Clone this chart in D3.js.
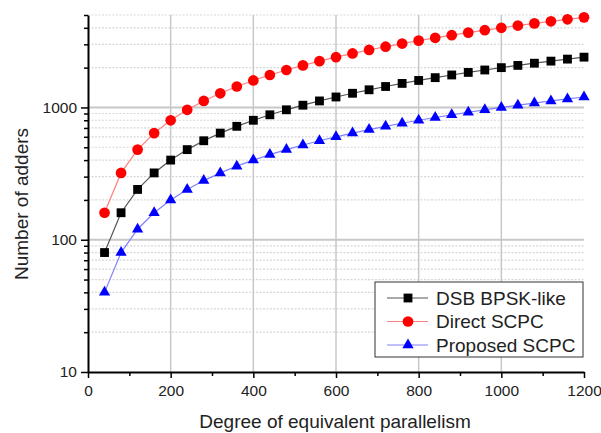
<!DOCTYPE html>
<html>
<head>
<meta charset="utf-8">
<script src="https://cdn.jsdelivr.net/npm/d3@7/dist/d3.min.js"></script>
<style>
  body { margin: 0; background: #fff; }
  svg { font-family: "Liberation Sans", Arial, sans-serif; }
</style>
</head>
<body>
<div id="chart"></div>
<script>
const w = 601;
const h = 433;

// degree of equivalent parallelism
const parallelism = [40, 80, 120, 160, 200, 240, 280, 320, 360, 400, 440, 480, 520, 560, 600,
  640, 680, 720, 760, 800, 840, 880, 920, 960, 1000, 1040, 1080, 1120, 1160, 1200];
const dsb = [80, 160, 240, 320, 400, 480, 560, 640, 720, 800, 880, 960, 1040, 1120, 1200,
  1280, 1360, 1440, 1520, 1600, 1680, 1760, 1840, 1920, 2000, 2080, 2160, 2240, 2320, 2400];
const direct = [160, 320, 480, 640, 800, 960, 1120, 1280, 1440, 1600, 1760, 1920, 2080, 2240, 2400,
  2560, 2720, 2880, 3040, 3200, 3360, 3520, 3680, 3840, 4000, 4160, 4320, 4480, 4640, 4800];
const proposed = [40, 80, 120, 160, 200, 240, 280, 320, 360, 400, 440, 480, 520, 560, 600,
  640, 680, 720, 760, 800, 840, 880, 920, 960, 1000, 1040, 1080, 1120, 1160, 1200];

const seriesNames = ["DSB BPSK-like", "Direct SCPC", "Proposed SCPC"];
const xTicks = [0, 200, 400, 600, 800, 1000, 1200];
const xMinor = [100, 300, 500, 700, 900, 1100];
const yTicks = [10, 100, 1000];

const series = [
  { name: seriesNames[0], values: dsb, line: "#555", fill: "#000", shape: d3.symbolSquare, size: 78 },
  { name: seriesNames[1], values: direct, line: "#ff8080", fill: "#ff0000", shape: d3.symbolCircle, size: 90 },
  { name: seriesNames[2], values: proposed, line: "#8080ff", fill: "#0000ff", shape: d3.symbolTriangle, size: 55 }
];

const m = { left: 88, right: 584, top: 15, bottom: 372 };

const x = d3.scaleLinear().domain([0, 1200]).range([m.left, m.right]);
const y = d3.scaleLog().domain([10, 5000]).range([m.bottom, m.top]);

const svg = d3.select("#chart").append("svg")
  .attr("width", w).attr("height", h);

// minor log values
const yMinor = [];
[10, 100, 1000].forEach((dec) => {
  for (let k = 2; k <= 9; k += 1) {
    if (dec * k <= 5000) yMinor.push(dec * k);
  }
});

// grid
const grid = svg.append("g");
grid.selectAll("line.minor").data(yMinor).enter().append("line")
  .attr("x1", m.left).attr("x2", m.right)
  .attr("y1", (d) => y(d)).attr("y2", (d) => y(d))
  .attr("stroke", "#d8d8d8").attr("stroke-width", 1.2)
  .attr("stroke-dasharray", "2,1.5");
grid.selectAll("line.majy").data([100, 1000]).enter().append("line")
  .attr("x1", m.left).attr("x2", m.right)
  .attr("y1", (d) => y(d)).attr("y2", (d) => y(d))
  .attr("stroke", "#c8c8c8").attr("stroke-width", 2);
grid.selectAll("line.majx").data(xTicks.slice(1, -1)).enter().append("line")
  .attr("x1", (d) => x(d)).attr("x2", (d) => x(d))
  .attr("y1", m.top).attr("y2", m.bottom)
  .attr("stroke", "#c8c8c8").attr("stroke-width", 1.5);

// series
series.forEach((s) => {
  const line = d3.line().x((d, i) => x(parallelism[i])).y((d) => y(d));
  svg.append("path").datum(s.values)
    .attr("d", line)
    .attr("fill", "none")
    .attr("stroke", s.line)
    .attr("stroke-width", 1.2);
  svg.append("g").selectAll("path").data(s.values).enter().append("path")
    .attr("d", d3.symbol().type(s.shape).size(s.size))
    .attr("transform", (d, i) => `translate(${x(parallelism[i])},${y(d)})`)
    .attr("fill", s.fill);
});

// axes
svg.append("g").attr("transform", `translate(0,${m.bottom})`)
  .call(d3.axisBottom(x).tickValues(xTicks).tickFormat(d3.format("d"))
    .tickSize(6).tickSizeOuter(0).tickPadding(7));
svg.append("g").attr("transform", `translate(0,${m.bottom})`)
  .call(d3.axisBottom(x).tickValues(xMinor).tickSize(4).tickFormat("").tickSizeOuter(0))
  .select(".domain").remove();

svg.append("g").attr("transform", `translate(${m.left},0)`)
  .call(d3.axisLeft(y).tickValues(yTicks).tickFormat(d3.format("d")).tickSize(7).tickSizeOuter(0).tickPadding(4));
svg.append("g").attr("transform", `translate(${m.left},0)`)
  .call(d3.axisLeft(y).tickValues(yMinor).tickFormat("").tickSize(4).tickSizeOuter(0))
  .select(".domain").remove();

svg.selectAll(".domain").attr("stroke", "#000").attr("stroke-width", 2);
svg.selectAll(".tick line").attr("stroke", "#000").attr("stroke-width", 1.5);
svg.selectAll(".tick text").attr("font-size", 15.5).attr("fill", "#222")
  .style("font-family", "'Liberation Sans', Arial, sans-serif");

// axis titles
svg.append("text")
  .attr("x", 335).attr("y", 428)
  .attr("text-anchor", "middle").attr("font-size", 19).attr("fill", "#222")
  .text("Degree of equivalent parallelism");
svg.append("text")
  .attr("transform", "translate(28,204) rotate(-90)")
  .attr("text-anchor", "middle").attr("font-size", 19).attr("fill", "#222")
  .text("Number of adders");

// legend
const legend = svg.append("g").attr("transform", "translate(375,282)");
legend.append("rect").attr("width", 208).attr("height", 75)
  .attr("fill", "#fff").attr("stroke", "#333").attr("stroke-width", 1);
series.forEach((s, i) => {
  const ly = 16 + i * 23.5;
  legend.append("line").attr("x1", 12).attr("x2", 53).attr("y1", ly).attr("y2", ly)
    .attr("stroke", s.line).attr("stroke-width", 1.2);
  legend.append("path").attr("d", d3.symbol().type(s.shape).size(s.size)())
    .attr("transform", `translate(33,${ly})`).attr("fill", s.fill);
  legend.append("text").attr("x", 61).attr("y", ly + 6.5)
    .attr("font-size", 19).attr("fill", "#222").text(s.name);
});
</script>
</body>
</html>
